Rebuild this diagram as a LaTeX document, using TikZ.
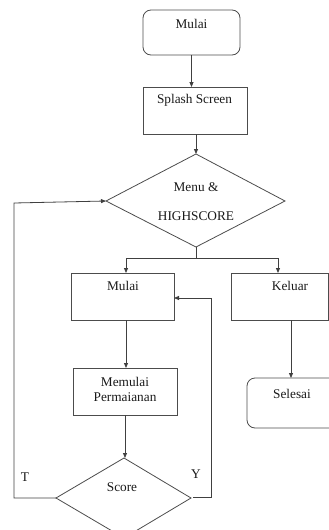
\documentclass[tikz,border=0pt]{standalone}
\usepackage{fontspec}
\setmainfont{Liberation Serif}
\usetikzlibrary{arrows.meta}
\begin{document}
\begin{tikzpicture}[x=1pt,y=-1pt,
  line width=0.8pt,
  outline/.style={draw=black!70},
  lbl/.style={font=\fontsize{13.3}{15}\selectfont, text=black!90, inner sep=0pt, align=center},
  conn/.style={draw=black!75, -{Triangle[length=5pt,width=4pt]}},
  plain/.style={draw=black!75}]
\useasboundingbox (0,0) rectangle (329,530);
\clip (0,0) rectangle (329,530);
% shapes
\draw[outline, rounded corners=8pt] (143,10) rectangle (240,55);
\draw[outline] (143,87) rectangle (247,134);
\draw[outline] (196,154) -- (285,201) -- (196,247) -- (106,201) -- cycle;
\draw[outline] (71,273) rectangle (174,320);
\draw[outline] (231,273) rectangle (328,320);
\draw[outline] (73,368) rectangle (177,415);
\draw[outline] (124,458) -- (191,498) -- (124,538) -- (56,498) -- cycle;
\draw[outline, rounded corners=8pt] (247,378) rectangle (345,428);
% anchor coordinates
\coordinate (m1b) at (191.5,55);
\coordinate (sst) at (191.5,87);
\coordinate (ssb) at (196,134);
\coordinate (mnt) at (196,154);
\coordinate (mnb) at (196,247);
\coordinate (mnl) at (106,201);
\coordinate (split) at (196,258);
\coordinate (m2t) at (126,273);
\coordinate (kt) at (278,273);
\coordinate (m2b) at (126,320);
\coordinate (m2r) at (174,298);
\coordinate (mpt) at (126,368);
\coordinate (mpb) at (125,415);
\coordinate (sct) at (125,458);
\coordinate (scl) at (56,498);
\coordinate (scr) at (193,497);
\coordinate (kb) at (291,320);
\coordinate (set) at (291,378);
% labels
\node[lbl] (t1) at (191.5,24) {Mulai};
\node[lbl] (t2) at (194.5,100) {Splash Screen};
\node[lbl] (t3) at (196,187) {Menu \&};
\node[lbl] (t4) at (196,216) {HIGHSCORE};
\node[lbl] (t5) at (123,286) {Mulai};
\node[lbl] (t6) at (290,286) {Keluar};
\node[lbl, text width=90pt] (t7) at (125,389) {Memulai\\Permaianan};
\node[lbl] (t8) at (122,487) {Score};
\node[lbl] (t9) at (292,394) {Selesai};
\node[lbl] (tT) at (25,477) {T};
\node[lbl] (tY) at (196,474) {Y};
% connectors
\draw[conn] (m1b) -- (sst);
\draw[conn] (ssb) -- (mnt);
\draw[plain] (mnb) -- (split);
\draw[conn] (split) -| (m2t);
\draw[conn] (split) -| (kt);
\draw[conn] (m2b) -- (mpt);
\draw[conn] (mpb) -- (sct);
\draw[conn] (kb) -- (set);
\draw[conn] (scr) -- (211,497) -- (211,298) -- (m2r);
\draw[conn] (scl) -- (14,498) -- (14,203) -- (mnl);
\end{tikzpicture}
\end{document}
